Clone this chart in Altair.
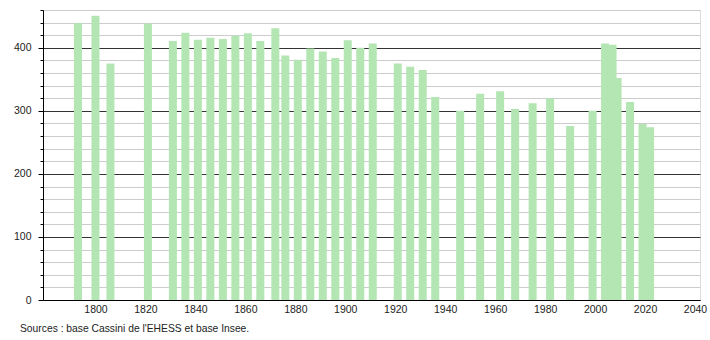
import altair as alt
import pandas as pd

years = [1793, 1800, 1806, 1821, 1831, 1836, 1841, 1846, 1851, 1856, 1861, 1866,
         1872, 1876, 1881, 1886, 1891, 1896, 1901, 1906, 1911, 1921, 1926, 1931,
         1936, 1946, 1954, 1962, 1968, 1975, 1982, 1990, 1999, 2004, 2007, 2009,
         2014, 2019, 2022]
population = [439, 451, 375, 438, 411, 424, 413, 416, 414, 419, 423, 411,
              431, 388, 381, 399, 394, 384, 412, 400, 407, 375, 370, 365,
              322, 300, 327, 331, 303, 312, 320, 276, 300, 407, 405, 352,
              314, 279, 274]
x_ticks = list(range(1800, 2041, 20))
y_ticks = list(range(0, 461, 20))
source_text = ["Sources : base Cassini de l'EHESS et base Insee."]

df = pd.DataFrame({"year": years, "pop": population})
src = pd.DataFrame({"t": source_text})

FONT = "Liberation Sans"

x_scale = alt.Scale(domain=[1779, 2042], nice=False, zero=False, padding=0)
y_scale = alt.Scale(domain=[0, 460], nice=False)

bars = alt.Chart(df).mark_bar(size=8, color="#b3e6b3").encode(
    x=alt.X("year:Q", scale=x_scale,
            axis=alt.Axis(values=x_ticks, format="d", title=None, grid=False,
                          ticks=False, labelPadding=4, domainColor="#000",
                          labelFontSize=10.5, labelFont=FONT, labelColor="#222")),
    y=alt.Y("pop:Q", scale=y_scale,
            axis=alt.Axis(values=y_ticks, title=None, grid=True,
                          gridColor={"condition": {"test": "datum.value % 100 === 0", "value": "#333"}, "value": "#cccccc"},
                          tickSize={"condition": {"test": "datum.value % 100 === 0", "value": 5}, "value": 3},
                          tickColor="#000", domainColor="#000",
                          labelExpr="datum.value % 100 === 0 ? datum.label : ''",
                          labelPadding=7, labelFontSize=10.5, labelFont=FONT,
                          labelColor="#222")),
)

note = alt.Chart(src).mark_text(align="left", baseline="alphabetic", fontSize=10.3,
                                font=FONT, color="#222").encode(
    x=alt.value(-23), y=alt.value(322), text="t:N")

chart = alt.layer(bars, note).properties(
    width=657, height=290,
    autosize=alt.AutoSizeParams(type="none"),
    padding={"left": 43, "top": 10, "right": 10, "bottom": 40},
).configure_view(stroke=None).configure(background="white")

chart.save("out.html", embed_options={"renderer": "svg", "actions": False})
